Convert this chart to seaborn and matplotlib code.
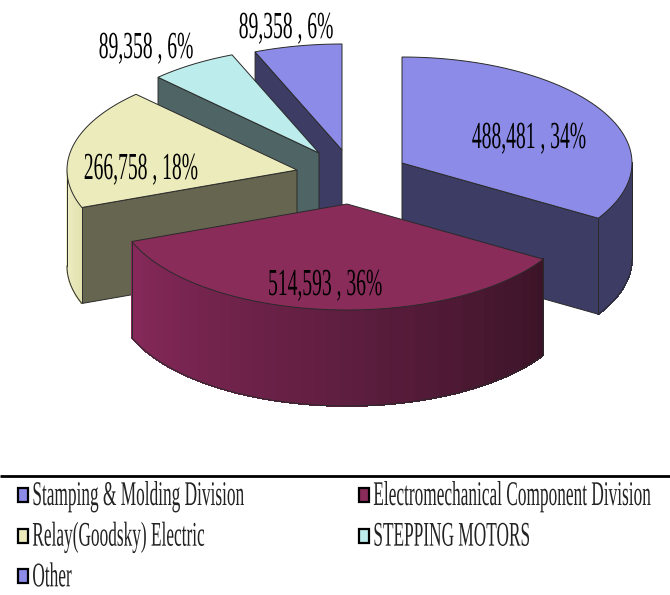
import numpy as np
import matplotlib
matplotlib.use('Agg')
import matplotlib.pyplot as plt
import matplotlib.patheffects as pe
from matplotlib.patches import Patch, Polygon
from matplotlib.transforms import Affine2D
import seaborn as sns

# data
divisions = ['Stamping & Molding Division', 'Electromechanical Component Division',
             'Relay(Goodsky) Electric', 'STEPPING MOTORS', 'Other']
values = [488481, 514593, 266758, 89358, 89358]

# styles
top_colors = ['#8c8ce8', '#8a2c5a', '#ecebbc', '#bcecec', '#8c8ce8']
wall_colors = ['#3c3c64', '#3c1428', '#666650', '#4f6464', '#3c3c64']
arc_colors = [('#3c3c64', '#3c3c64'), ('#3c1428', '#86295a'), ('#e2e2b0', '#f0efc8'),
              ('#4f6464', '#4f6464'), ('#3c3c64', '#3c3c64')]
apex_px = [(402, 163), (347, 204), (297, 170), (319, 153), (342, 150)]
label_px = [(529, 148), (325, 295), (141, 179), (146, 58), (286, 38)]
draw_order = [4, 3, 2, 0, 1]
RX, RY, DEPTH = 230, 106, 96
EDGE = '#2a2a2a'


class Tall(pe.AbstractPathEffect):
    """Stretch glyphs upward from the baseline, the source text is squashed sideways."""
    def __init__(self, sy, dy=0):
        super().__init__()
        self.sy = sy
        self.dy = dy

    def draw_path(self, renderer, gc, tpath, affine, rgbFace=None):
        squash = Affine2D().scale(1, self.sy) + affine + Affine2D().translate(0, self.dy)
        renderer.draw_path(gc, tpath, squash, rgbFace)


def rim(apex, t0, t1, n=60):
    t = np.radians(np.linspace(t0, t1, n))
    return np.column_stack([apex[0] + RX * np.sin(t), apex[1] - RY * np.cos(t)])


def i_z(i):
    return 2 + draw_order.index(i)


def draw_slice(ax, apex, t0, t1, i):
    # radial walls that face the viewer
    for t, show in ((t1, t1 < 180), (t0, t0 > 180)):
        if show:
            p = rim(apex, t, t, 1)[0]
            ax.add_patch(Polygon([apex, p, (p[0], p[1] + DEPTH), (apex[0], apex[1] + DEPTH)],
                                 facecolor=wall_colors[i], edgecolor=EDGE, lw=0.7, zorder=i_z(i)))
    # outer wall, only the front half of the ellipse can be seen
    a0, a1 = max(t0, 90), min(t1, 270)
    if a1 > a0:
        edges = np.linspace(a0, a1, 41)
        shades = sns.blend_palette(arc_colors[i], len(edges) - 1)
        for k in range(len(edges) - 1):
            arc = rim(apex, edges[k], edges[k + 1], 4)
            low = arc[::-1] + (0, DEPTH)
            ax.add_patch(Polygon(np.vstack([arc, low]), facecolor=shades[k], edgecolor=shades[k],
                                 lw=0.6, antialiased=False, zorder=i_z(i)))
        arc = rim(apex, a0, a1)
        ax.plot(*(arc + (0, DEPTH)).T, color=EDGE, lw=0.7, zorder=i_z(i))
        for x, y in (arc[0], arc[-1]):
            ax.plot([x, x], [y, y + DEPTH], color=EDGE, lw=0.7, zorder=i_z(i))
    # top face
    ax.add_patch(Polygon(np.vstack([[apex], rim(apex, t0, t1)]), facecolor=top_colors[i],
                         edgecolor=EDGE, lw=0.7, zorder=i_z(i) + 0.5))


sns.set_theme(style='white')
plt.rcParams['font.family'] = ['Liberation Serif', 'DejaVu Serif']

fig = plt.figure(figsize=(6.7, 5.95), dpi=100)
ax = fig.add_axes([0, 0, 1, 1])
ax.set_xlim(0, 670)
ax.set_ylim(595, 0)
ax.axis('off')

total = sum(values)
ends = np.cumsum(values) / total * 360
starts = np.concatenate([[0], ends[:-1]])

for i in draw_order:
    draw_slice(ax, apex_px[i], starts[i], ends[i], i)

for i, v in enumerate(values):
    ax.text(label_px[i][0], label_px[i][1], f'{v:,} , {round(v / total * 100)}%', ha='center',
            va='baseline', fontsize=14.1, color='black', zorder=20, path_effects=[Tall(1.95)])

ax.plot([0, 670], [476, 476], color='black', lw=2, solid_capstyle='butt', zorder=20)

# matplotlib fills legend columns first
order = [0, 2, 4, 1, 3]
handles = [Patch(facecolor=top_colors[i], edgecolor='black', lw=1.6, label=divisions[i]) for i in order]
leg = ax.legend(handles=handles, ncol=2, loc='upper left', bbox_to_anchor=(18, 488),
                bbox_transform=ax.transData, frameon=False, fontsize=12.45, borderpad=0,
                borderaxespad=0, handlelength=0.58, handleheight=0.87, handletextpad=0.25,
                columnspacing=6.6, labelspacing=1.37)
for t in leg.get_texts():
    t.set_path_effects([Tall(2.0, -4)])
    t.set_color('#222222')

fig.savefig('out.png', dpi=100)
